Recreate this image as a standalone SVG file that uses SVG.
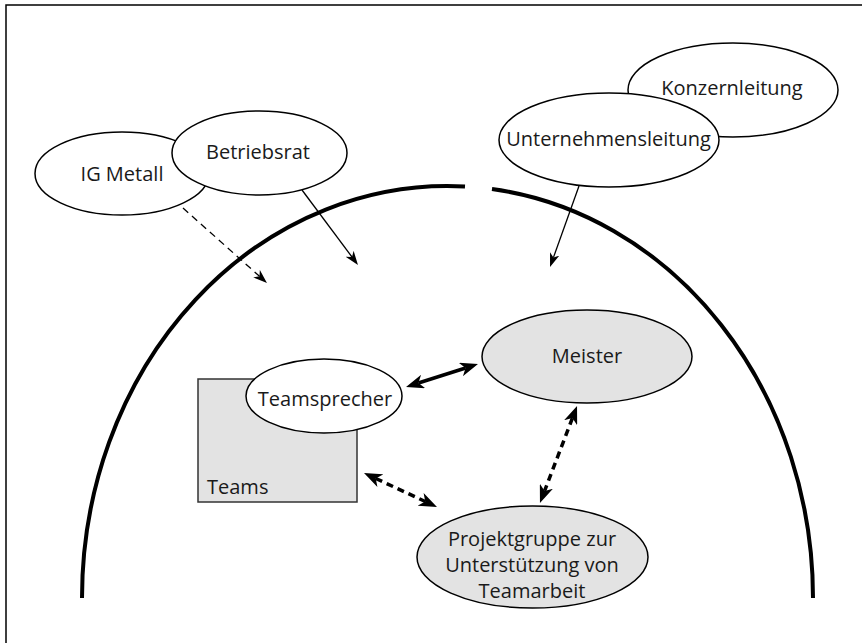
<svg xmlns="http://www.w3.org/2000/svg" width="862" height="643" viewBox="0 0 862 643">
<style>
text{font-family:"Open Sans","Noto Sans",sans-serif;font-size:20px;fill:#1a1a1a}
.c{text-anchor:middle}
.n{stroke:#000;stroke-width:1.5}
.w{fill:#fff}
.g{fill:#e3e3e3}
.thin{stroke:#000;stroke-width:1.3;fill:none}
.thick{stroke:#000;stroke-width:3.5;fill:none}
</style>
<defs>
<marker id="ah" viewBox="0 0 14 10" refX="4" refY="5" markerWidth="14" markerHeight="10" markerUnits="userSpaceOnUse" orient="auto-start-reverse"><path d="M0,0 L14,5 L0,10 L4,5 z" fill="#000"/></marker>
<marker id="AH" viewBox="0 0 18 14" refX="5" refY="7" markerWidth="18" markerHeight="14" markerUnits="userSpaceOnUse" orient="auto-start-reverse"><path d="M0,0 L18,7 L0,14 L5,7 z" fill="#000"/></marker>
</defs>
<rect x="0" y="0" width="862" height="643" fill="#fff"/>
<rect x="6" y="5" width="880" height="680" fill="none" stroke="#000" stroke-width="1.5"/>
<g id="arch">
<path d="M82,598 A365.5,412 0 0 1 465,186.5" fill="none" stroke="#000" stroke-width="4"/>
<path d="M492,189 A365.5,412 0 0 1 813,598" fill="none" stroke="#000" stroke-width="4"/>
</g>
<g id="connectors">
<line class="thin" x1="183" y1="208" x2="259.5" y2="276.3" stroke-dasharray="7,5" marker-end="url(#ah)"/>
<line class="thin" x1="302" y1="190" x2="352" y2="257" marker-end="url(#ah)"/>
<line class="thin" x1="579" y1="186" x2="553.4" y2="257.6" marker-end="url(#ah)"/>
<line class="thick" x1="418.4" y1="383" x2="465.6" y2="368" marker-start="url(#AH)" marker-end="url(#AH)"/>
<line class="thick" x1="572.4" y1="418.1" x2="544.6" y2="490.9" stroke-dasharray="7,5" marker-start="url(#AH)" marker-end="url(#AH)"/>
<line class="thick" x1="375.8" y1="478.5" x2="425.2" y2="501.5" stroke-dasharray="7,5" marker-start="url(#AH)" marker-end="url(#AH)"/>
</g>
<g id="igmetall">
<ellipse class="n w" cx="122" cy="173.5" rx="87" ry="41.5"/>
<text class="c" x="122" y="181">IG Metall</text>
</g>
<g id="betriebsrat">
<ellipse class="n w" cx="259.5" cy="153" rx="87.5" ry="42"/>
<text class="c" x="258" y="159">Betriebsrat</text>
</g>
<g id="konzernleitung">
<ellipse class="n w" cx="733" cy="90" rx="105" ry="47"/>
<text class="c" x="732" y="95">Konzernleitung</text>
</g>
<g id="unternehmensleitung">
<ellipse class="n w" cx="609" cy="140" rx="110" ry="47"/>
<text class="c" x="608.5" y="146">Unternehmensleitung</text>
</g>
<g id="teams">
<rect x="198" y="379" width="159" height="123" fill="#e3e3e3" stroke="#333" stroke-width="1.5"/>
<text x="207" y="494">Teams</text>
</g>
<g id="teamsprecher">
<ellipse class="n w" cx="324" cy="396" rx="78" ry="37"/>
<text class="c" x="325" y="406">Teamsprecher</text>
</g>
<g id="meister">
<ellipse class="n g" cx="587" cy="356.5" rx="105" ry="46.5"/>
<text class="c" x="587" y="363">Meister</text>
</g>
<g id="projektgruppe">
<ellipse class="n g" cx="532.5" cy="557" rx="115.5" ry="51"/>
<text class="c" x="532" y="546">Projektgruppe zur</text>
<text class="c" x="532" y="572">Unterstützung von</text>
<text class="c" x="532" y="598">Teamarbeit</text>
</g>
</svg>
